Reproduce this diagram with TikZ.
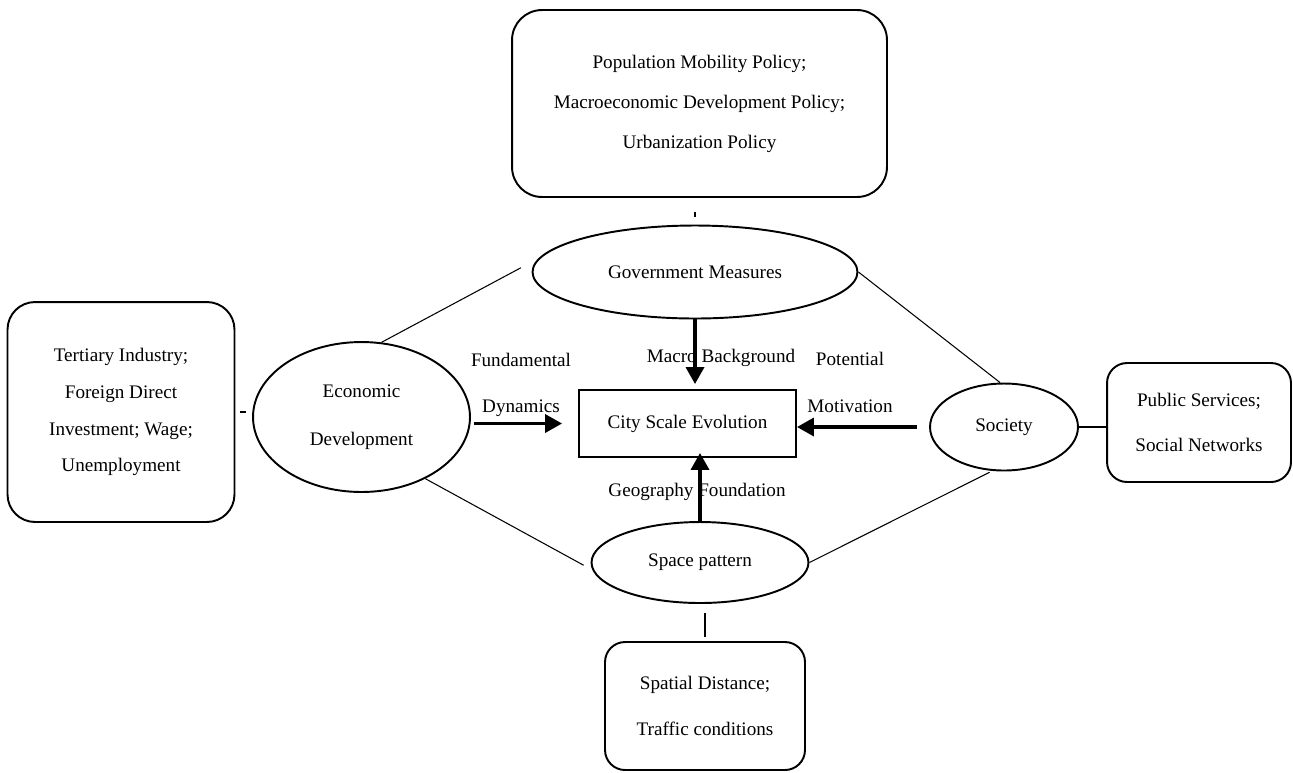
\documentclass[tikz,border=0pt]{standalone}
\usepackage{fontspec}
\setmainfont{Liberation Serif}
\usepackage{tikz}
\usetikzlibrary{arrows.meta,shapes.geometric}

\begin{document}
\begin{tikzpicture}[
    x=0.02cm, y=-0.02cm,
    ellip/.style={draw, ellipse, line width=1.1pt, inner sep=0pt, align=center, font=\fontsize{10.9}{27}\selectfont},
    rbox/.style={draw, rounded corners=0.45cm, line width=1.1pt, align=center, font=\fontsize{10.9}{26}\selectfont},
    cbox/.style={draw, line width=1.1pt, font=\fontsize{10.9}{13}\selectfont},
    lbl/.style={align=center, font=\fontsize{10.9}{26.5}\selectfont},
    arr/.style={-{Triangle[length=0.34cm, width=0.36cm]}, line width=2pt},
    conn/.style={line width=0.6pt}
]
\useasboundingbox (0,0) rectangle (1293,772);

\node[rbox, rounded corners=0.6cm, minimum width=7.5cm, minimum height=3.74cm, font=\fontsize{10.9}{22.8}\selectfont] (policy) at (699.5,103.5) {Population Mobility Policy;\\Macroeconomic Development Policy;\\Urbanization Policy};
\node[ellip, minimum width=6.5cm, minimum height=1.86cm] (gov) at (695,272) {Government Measures};
\node[rbox, rounded corners=0.55cm, minimum width=4.54cm, minimum height=4.4cm, font=\fontsize{10.9}{21}\selectfont] (econfac) at (121,412) {Tertiary Industry;\\Foreign Direct\\Investment; Wage;\\Unemployment};
\node[ellip, minimum width=4.34cm, minimum height=3cm] (econ) at (361.5,417) {Economic\\Development};
\node[cbox, minimum width=4.34cm, minimum height=1.34cm] (city) at (687.5,423.5) {City Scale Evolution};
\node[ellip, minimum width=2.96cm, minimum height=1.74cm] (soc) at (1004,427) {Society};
\node[rbox, rounded corners=0.4cm, minimum width=3.68cm, minimum height=2.38cm] (socfac) at (1199,422.5) {Public Services;\\Social Networks};
\node[ellip, minimum width=4.34cm, minimum height=1.62cm] (space) at (700,562.5) {Space pattern};
\node[rbox, rounded corners=0.4cm, minimum width=4cm, minimum height=2.56cm] (spacefac) at (705,706) {Spatial Distance;\\Traffic conditions};

\node[lbl] (fund) at (521,385) {Fundamental\\Dynamics};
\node[lbl] (macro) at (721,358) {Macro Background};
\node[lbl] (pot) at (850,382.5) {Potential\\Motivation};
\node[lbl] (geo) at (697,492) {Geography Foundation};

\draw[arr, shorten <=0.06cm, shorten >=0.32cm] (econ.east |- city) -- (city.west);
\draw[arr, shorten >=0.1cm] (gov.south) -- (gov.south |- city.north);
\draw[arr, shorten <=0.24cm] (soc.west) -- (soc.west -| city.east);
\draw[arr, shorten >=-0.1cm] (space.north) -- (space.north |- city.south);

\draw[conn, shorten >=0.4cm] (econ.75) -- (gov.175);
\draw[conn] (gov.east) -- (soc.95);
\draw[conn, shorten >=0.2cm] (econ.-44) -- (space.184);
\draw[conn, shorten >=0.06cm] (space.east) -- (soc.255);
\draw[conn] (soc.east) -- (soc.east -| socfac.west);

\draw[conn, shorten <=0.28cm, shorten >=0.16cm] (gov.north |- policy.south) -- (gov.north);
\draw[conn, shorten <=0.1cm, shorten >=0.12cm] (econfac.east) -- (econfac.east -| econ.west);
\draw[conn, shorten <=0.18cm, shorten >=0.08cm] (spacefac.north |- space.south) -- (spacefac.north);
\end{tikzpicture}
\end{document}
